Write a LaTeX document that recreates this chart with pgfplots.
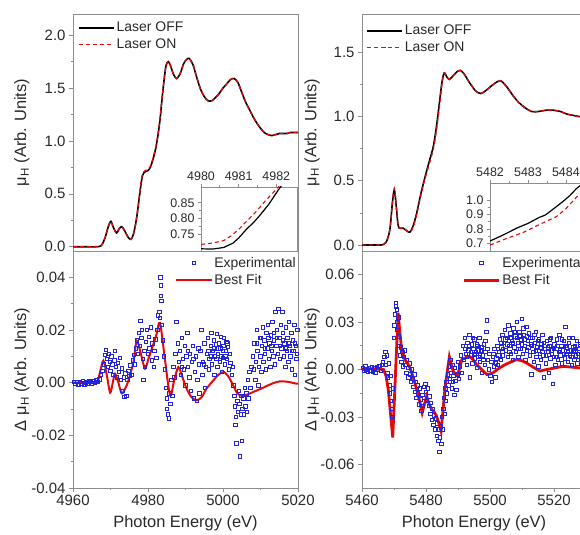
\documentclass[border=0pt]{standalone}
\usepackage{pgfplots}
\pgfplotsset{compat=1.18}
\usepackage{fontspec}
\setmainfont{Liberation Sans}

\definecolor{expblue}{RGB}{35,35,220}
\definecolor{fitred}{RGB}{228,10,10}
\definecolor{axgray}{RGB}{140,140,140}
\definecolor{txt}{RGB}{40,40,40}

\pgfplotsset{
  panel/.style={
    scale only axis,
    axis line style={axgray, line width=0.8pt},
    every tick/.style={axgray, line width=0.7pt},
    tick align=outside,
    major tick length=4bp,
    minor tick length=2.5bp,
    minor tick num=1,
    xtick pos=bottom, ytick pos=left,
    scaled ticks=false,
    tick label style={text=txt, font=\fontsize{15}{17}\selectfont},
    label style={text=txt, font=\fontsize{16.5}{19}\selectfont},
    /pgf/number format/assume math mode=true,
    /pgf/number format/1000 sep={},
    legend style={draw=none, fill=none, inner sep=0pt, font=\fontsize{14}{16}\selectfont, text=txt, row sep=1.5bp},
    legend cell align=left,
    legend image code/.code={\draw[mark repeat=2,mark phase=2,#1] plot coordinates {(0bp,0bp) (17.5bp,0bp) (35bp,0bp)};},
  },
  inset/.style={
    panel,
    axis background/.style={fill=white},
    xtick pos=top, xticklabel pos=top,
    major tick length=3bp, minor tick length=2bp,
    tick label style={text=txt, font=\fontsize{12.5}{14}\selectfont},
  },
  off/.style={black, line width=1.6pt},
  on/.style={fitred, line width=1.3pt, dash pattern=on 4bp off 3bp},
  expt/.style={only marks, mark=square, mark size=1.7bp, expblue, mark options={line width=0.7pt}},
}

\begin{document}
\begin{tikzpicture}[x=1bp,y=1bp]

% ---------- top left: XANES ----------
\begin{axis}[panel, at={(73bp,284bp)}, anchor=south west, width=225bp, height=237bp,
  xmin=4960, xmax=5020, ymin=-0.04, ymax=2.2, xtick=\empty,
  ytick={0,0.5,1,1.5,2},
  yticklabel style={/pgf/number format/.cd, fixed, fixed zerofill, precision=1},
  ylabel={μ\textsubscript{H} (Arb. Units)},
  ylabel style={at={(axis description cs:-0.227,0.5)}, anchor=center},
  legend style={at={(axis description cs:0.022,0.975)}, anchor=north west}]
\addplot[off, smooth] coordinates {(4960,0.0)(4963,0.0)(4966,0.0)(4967.5,0.01)(4968.5,0.08)(4969.5,0.20)(4970.1,0.24)(4970.8,0.18)(4971.6,0.13)(4972.3,0.17)(4973.0,0.19)(4973.8,0.15)(4974.7,0.09)(4975.5,0.07)(4976.2,0.13)(4977.0,0.28)(4977.8,0.50)(4978.5,0.67)(4979.3,0.71)(4980.0,0.72)(4980.6,0.75)(4981.2,0.81)(4982.0,0.92)(4982.6,1.04)(4983.2,1.20)(4983.7,1.38)(4984.2,1.55)(4984.8,1.71)(4985.4,1.75)(4986.0,1.71)(4986.8,1.63)(4987.6,1.59)(4988.5,1.63)(4989.5,1.73)(4990.3,1.77)(4991.0,1.78)(4992.0,1.72)(4993.0,1.60)(4994.0,1.49)(4995.0,1.42)(4996.0,1.38)(4997.0,1.38)(4998.0,1.41)(4999.0,1.45)(5000.0,1.50)(5001.0,1.54)(5002.0,1.58)(5003.0,1.59)(5004.0,1.55)(5005.0,1.46)(5006.0,1.37)(5007.0,1.30)(5008.0,1.23)(5009.0,1.17)(5010.0,1.12)(5011.0,1.08)(5012.0,1.06)(5013.0,1.05)(5014.0,1.06)(5015.0,1.07)(5016.0,1.07)(5017.0,1.07)(5018.0,1.08)(5019.0,1.08)(5020.0,1.08)};
\addlegendentry{Laser OFF}
\addplot[on, smooth] coordinates {(4960,0.0)(4963,0.0)(4966,0.0)(4967.5,0.01)(4968.5,0.08)(4969.5,0.20)(4970.1,0.24)(4970.8,0.18)(4971.6,0.13)(4972.3,0.17)(4973.0,0.19)(4973.8,0.15)(4974.7,0.09)(4975.5,0.07)(4976.2,0.13)(4977.0,0.28)(4977.8,0.51)(4978.5,0.68)(4979.3,0.72)(4980.0,0.73)(4980.6,0.76)(4981.2,0.82)(4982.0,0.93)(4982.6,1.05)(4983.2,1.21)(4983.7,1.39)(4984.2,1.55)(4984.8,1.71)(4985.4,1.75)(4986.0,1.71)(4986.8,1.63)(4987.6,1.59)(4988.5,1.63)(4989.5,1.73)(4990.3,1.77)(4991.0,1.78)(4992.0,1.72)(4993.0,1.60)(4994.0,1.49)(4995.0,1.42)(4996.0,1.38)(4997.0,1.38)(4998.0,1.41)(4999.0,1.45)(5000.0,1.50)(5001.0,1.54)(5002.0,1.58)(5003.0,1.59)(5004.0,1.55)(5005.0,1.46)(5006.0,1.37)(5007.0,1.30)(5008.0,1.23)(5009.0,1.17)(5010.0,1.12)(5011.0,1.08)(5012.0,1.06)(5013.0,1.05)(5014.0,1.06)(5015.0,1.07)(5016.0,1.07)(5017.0,1.07)(5018.0,1.08)(5019.0,1.08)(5020.0,1.08)};
\addlegendentry{Laser ON}
\end{axis}

% ---------- top left inset ----------
\begin{axis}[inset, at={(201bp,284bp)}, anchor=south west, width=96bp, height=64bp,
  xmin=4980, xmax=4982.55, ymin=0.697, ymax=0.90,
  xtick={4980,4981,4982}, ytick={0.75,0.80,0.85},
  yticklabel style={/pgf/number format/.cd, fixed, fixed zerofill, precision=2}]
\addplot[off, line width=1.2pt] coordinates {(4980.0,0.704)(4980.3,0.703)(4980.6,0.708)(4980.85,0.722)(4981.0,0.738)(4981.2,0.765)(4981.4,0.788)(4981.55,0.808)(4981.8,0.845)(4982.05,0.890)(4982.3,0.93)};
\addplot[on, line width=1.1pt] coordinates {(4980.0,0.718)(4980.3,0.722)(4980.6,0.730)(4980.8,0.745)(4981.0,0.765)(4981.2,0.790)(4981.45,0.820)(4981.7,0.855)(4981.98,0.890)(4982.2,0.92)};
\end{axis}

% ---------- bottom left: difference ----------
\begin{axis}[panel, at={(73bp,47bp)}, anchor=south west, width=225bp, height=237bp,
  xmin=4960, xmax=5020, ymin=-0.04, ymax=0.05,
  xtick={4960,4980,5000,5020}, ytick={-0.04,-0.02,0,0.02,0.04},
  yticklabel style={/pgf/number format/.cd, fixed, fixed zerofill, precision=2},
  xlabel={Photon Energy (eV)},
  xlabel style={at={(axis description cs:0.5,-0.148)}, anchor=center},
  ylabel={Δ μ\textsubscript{H} (Arb. Units)},
  ylabel style={at={(axis description cs:-0.227,0.5)}, anchor=center},
  legend style={at={(axis description cs:1,0.983)}, anchor=north east}]
\addplot[expt] coordinates {
(4960.2,0.0003)(4960.6,-0.0005)(4961.0,0.0002)(4961.4,-0.0008)(4961.8,0.0004)(4962.2,-0.0002)(4962.6,0.0006)(4963.0,-0.0006)(4963.4,0.0001)(4963.8,-0.0003)(4964.2,0.0008)(4964.6,0.0002)(4965.0,-0.0004)(4965.4,0.0005)(4965.8,-0.0001)(4966.2,0.0009)(4966.6,0.0003)(4967.0,0.0012)(4967.4,0.0030)
(4967.8,0.0045)(4968.2,0.0070)(4968.5,0.0105)(4968.8,0.0125)(4969.0,0.0090)(4969.3,0.0060)(4969.5,0.0110)(4969.8,0.0080)(4970.0,0.0045)(4970.2,0.0100)(4970.5,0.0070)(4970.7,0.0030)(4971.0,0.0085)(4971.2,0.0120)(4971.5,0.0060)(4971.7,0.0020)(4972.0,0.0075)(4972.2,0.0040)(4972.5,0.0095)(4972.7,0.0010)(4973.0,0.0055)(4973.2,-0.0030)(4973.5,0.0020)(4973.7,-0.0055)(4974.0,0.0035)(4974.2,-0.0050)(4974.5,0.0010)(4974.8,0.0045)(4975.0,0.0025)(4975.3,0.0065)(4975.6,0.0030)(4975.9,0.0085)
(4976.2,0.0105)(4976.5,0.0070)(4976.8,0.0130)(4977.0,0.0160)(4977.3,0.0110)(4977.5,0.0190)(4977.8,0.0140)(4978.0,0.0235)(4978.2,0.0170)(4978.4,0.0200)(4978.6,0.0090)(4978.8,0.0010)(4979.0,0.0120)(4979.2,0.0060)(4979.5,0.0155)(4979.7,0.0200)(4980.0,0.0110)(4980.2,0.0175)(4980.4,0.0130)(4980.7,0.0210)(4981.0,0.0085)(4981.2,0.0150)(4981.5,0.0060)(4981.7,0.0120)(4982.0,0.0165)(4982.2,0.0095)(4982.5,0.0200)(4982.7,0.0255)(4983.0,0.0270)(4983.2,0.0245)(4983.3,0.0400)(4983.4,0.0370)(4983.5,0.0330)(4983.6,0.0310)(4983.7,0.0220)(4983.9,0.0160)
(4984.3,0.0100)(4984.5,0.0050)(4984.8,-0.0020)(4985.0,-0.0060)(4985.1,-0.0100)(4985.3,-0.0120)(4985.5,-0.0135)(4985.7,-0.0040)(4986.0,-0.0080)(4986.2,0.0010)(4986.5,-0.0050)(4986.8,0.0060)(4987.0,0.0020)(4987.3,0.0110)(4987.6,0.0230)(4987.9,0.0150)(4988.2,0.0080)
(4988.5,0.0120)(4988.8,0.0030)(4989.0,0.0170)(4989.3,0.0090)(4989.5,0.0050)(4989.8,0.0140)(4990.0,-0.0010)(4990.2,0.0100)(4990.5,0.0190)(4990.7,0.0060)(4991.0,0.0020)(4991.2,0.0110)(4991.5,-0.0030)(4991.7,0.0080)(4992.0,0.0140)(4992.2,-0.0060)(4992.5,0.0040)(4992.7,0.0100)(4993.0,-0.0070)(4993.2,0.0010)(4993.5,0.0070)(4993.7,-0.0040)(4994.0,0.0120)(4994.2,0.0200)(4994.5,0.0030)(4994.7,0.0080)(4995.0,0.0150)(4995.2,-0.0020)(4995.5,0.0060)(4995.7,0.0110)(4996.0,0.0170)(4996.2,0.0050)(4996.4,0.0090)(4996.7,0.0140)(4996.9,0.0190)(4997.1,0.0070)(4997.3,0.0120)(4997.5,0.0160)(4997.7,0.0030)(4997.9,0.0100)(4998.1,0.0145)(4998.3,0.0185)(4998.5,0.0060)(4998.7,0.0110)(4998.9,0.0150)(4999.1,0.0080)(4999.3,0.0130)(4999.5,0.0175)(4999.7,0.0040)(4999.9,0.0095)(5000.1,0.0140)(5000.3,0.0170)(5000.5,0.0070)(5000.7,0.0120)(5000.9,0.0155)(5001.1,0.0090)(5001.3,0.0135)(5001.5,0.0050)(5001.8,0.0110)(5002.0,0.0075)(5002.3,0.0030)(5002.6,0.0060)
(4989.1,0.0060)(4990.6,0.0120)(4992.1,0.0090)(4993.4,0.0130)(4994.9,0.0070)(4996.1,0.0120)(4996.8,0.0100)(4997.6,0.0130)(4998.2,0.0090)(4998.8,0.0130)(4999.4,0.0100)(5000.0,0.0120)(5000.6,0.0100)(5001.2,0.0150)
(5002.8,-0.0010)(5003.0,-0.0050)(5003.2,-0.0090)(5003.3,-0.0160)(5003.4,-0.0130)(5003.6,-0.0230)(5003.8,-0.0070)(5004.0,-0.0110)(5004.2,-0.0030)(5004.4,-0.0080)(5004.5,-0.0280)(5004.7,-0.0120)(5004.9,-0.0050)(5005.0,-0.0220)(5005.2,-0.0100)(5005.4,-0.0060)(5005.6,-0.0120)(5005.8,-0.0020)(5006.0,-0.0090)(5006.2,-0.0040)(5006.4,-0.0110)(5006.6,0.0010)(5006.8,-0.0060)(5007.0,0.0040)(5007.3,-0.0020)(5007.6,0.0060)
(5008.0,0.0100)(5008.2,0.0050)(5008.4,0.0150)(5008.6,0.0010)(5008.8,0.0080)(5009.0,0.0200)(5009.2,0.0120)(5009.4,-0.0010)(5009.6,0.0060)(5009.8,0.0170)(5010.0,0.0100)(5010.2,0.0040)(5010.4,0.0140)(5010.6,0.0210)(5010.8,0.0080)(5011.0,0.0160)(5011.2,0.0110)(5011.4,0.0050)(5011.6,0.0190)(5011.8,0.0130)(5012.0,0.0220)(5012.2,0.0090)(5012.4,0.0150)(5012.6,0.0060)(5012.8,0.0180)(5013.0,0.0120)(5013.2,0.0230)(5013.4,0.0100)(5013.6,0.0160)(5013.8,0.0070)(5014.0,0.0270)(5014.2,0.0140)(5014.4,0.0200)(5014.6,0.0110)(5014.8,0.0280)(5015.0,0.0170)(5015.2,0.0090)(5015.4,0.0220)(5015.6,0.0130)(5015.8,0.0270)(5016.0,0.0190)(5016.2,0.0100)(5016.4,0.0150)(5016.6,0.0060)(5016.8,0.0210)(5017.0,0.0120)(5017.2,0.0170)(5017.4,0.0080)(5017.6,0.0230)(5017.8,0.0140)(5018.0,0.0100)(5018.2,0.0190)(5018.4,0.0050)(5018.6,0.0160)(5018.8,0.0120)(5019.0,0.0220)(5019.2,0.0030)(5019.4,0.0140)(5019.6,0.0090)(5019.8,0.0200)
(5009.1,0.0150)(5010.1,0.0170)(5011.1,0.0130)(5012.1,0.0170)(5012.9,0.0140)(5013.5,0.0190)(5014.3,0.0170)(5015.1,0.0140)(5015.9,0.0160)(5016.7,0.0130)(5017.5,0.0150)(5018.3,0.0120)(5019.1,0.0150)(5019.7,0.0110)};
\addlegendentry{Experimental}
\addplot[fitred, line width=2pt, smooth] coordinates {(4960,0.0)(4963,0.0)(4966.3,0.0)(4967.2,0.004)(4968.1,0.0084)(4969.0,0.003)(4969.9,-0.0038)(4970.6,0.0)(4971.2,0.0034)(4972.1,0.0)(4973.0,-0.0041)(4974.0,-0.002)(4974.8,0.0009)(4976.1,0.0078)(4977.0,0.0159)(4978.1,0.011)(4979.2,0.0053)(4980.1,0.009)(4981.0,0.0128)(4982.2,0.018)(4983.2,0.0226)(4984.5,0.009)(4985.9,-0.0048)(4987.0,0.001)(4988.1,0.0059)(4989.2,0.002)(4990.3,-0.0023)(4991.6,-0.0055)(4993.0,-0.0067)(4994.3,-0.0055)(4995.6,-0.0023)(4997.5,0.001)(4999.0,0.0033)(5000.3,0.004)(5001.5,0.0022)(5002.7,-0.001)(5003.8,-0.004)(5005.0,-0.005)(5006.5,-0.0045)(5008.1,-0.0035)(5009.8,-0.0025)(5011.6,-0.0013)(5013.4,-0.0002)(5015.2,0.0005)(5017.4,0.0003)(5019.6,-0.0004)(5020,-0.0004)};
\addlegendentry{Best Fit}
\end{axis}

% ---------- top right: XANES ----------
\begin{axis}[panel, at={(362bp,284bp)}, anchor=south west, width=224bp, height=237bp,
  xmin=5460, xmax=5530, ymin=-0.047, ymax=1.8, xtick=\empty,
  ytick={0,0.5,1,1.5},
  yticklabel style={/pgf/number format/.cd, fixed, fixed zerofill, precision=1},
  ylabel={μ\textsubscript{H} (Arb. Units)},
  ylabel style={at={(axis description cs:-0.223,0.5)}, anchor=center},
  legend style={at={(axis description cs:0.018,0.962)}, anchor=north west}]
\addplot[off, smooth] coordinates {(5460,0.0)(5464,0.0)(5466,0.0)(5467.5,0.02)(5468.7,0.12)(5469.5,0.33)(5470.1,0.43)(5470.7,0.30)(5471.3,0.15)(5472.0,0.13)(5472.9,0.13)(5474.0,0.11)(5475.0,0.10)(5476.0,0.15)(5477.1,0.25)(5478.4,0.40)(5479.7,0.53)(5481.0,0.65)(5482.3,0.77)(5483.3,0.93)(5484.2,1.11)(5485.0,1.27)(5485.7,1.34)(5486.5,1.31)(5487.3,1.29)(5488.5,1.32)(5489.7,1.35)(5490.8,1.36)(5492.0,1.33)(5493.2,1.28)(5494.3,1.24)(5495.5,1.20)(5497.1,1.18)(5498.5,1.20)(5500.0,1.23)(5501.5,1.26)(5503.3,1.28)(5505.0,1.24)(5507.3,1.16)(5509.0,1.11)(5510.9,1.07)(5513.0,1.04)(5515.1,1.04)(5517.5,1.05)(5519.8,1.05)(5522.0,1.04)(5524.0,1.02)(5526.0,1.01)(5528.0,1.00)(5530.0,1.00)};
\addlegendentry{Laser OFF}
\addplot[on, smooth] coordinates {(5460,0.0)(5464,0.0)(5466,0.0)(5467.5,0.02)(5468.7,0.12)(5469.5,0.33)(5470.1,0.44)(5470.7,0.31)(5471.3,0.15)(5472.0,0.13)(5472.9,0.13)(5474.0,0.11)(5475.0,0.10)(5476.0,0.14)(5477.1,0.24)(5478.4,0.39)(5479.7,0.52)(5481.0,0.63)(5482.3,0.75)(5483.3,0.90)(5484.2,1.08)(5485.0,1.26)(5485.7,1.34)(5486.5,1.31)(5487.3,1.29)(5488.5,1.32)(5489.7,1.35)(5490.8,1.36)(5492.0,1.33)(5493.2,1.28)(5494.3,1.24)(5495.5,1.20)(5497.1,1.18)(5498.5,1.20)(5500.0,1.23)(5501.5,1.26)(5503.3,1.28)(5505.0,1.24)(5507.3,1.16)(5509.0,1.11)(5510.9,1.07)(5513.0,1.04)(5515.1,1.04)(5517.5,1.05)(5519.8,1.05)(5522.0,1.04)(5524.0,1.02)(5526.0,1.01)(5528.0,1.00)(5530.0,1.00)};
\addlegendentry{Laser ON}
\end{axis}

% ---------- top right inset ----------
\begin{axis}[inset, at={(490bp,284bp)}, anchor=south west, width=96bp, height=67.7bp,
  xmin=5482, xmax=5484.53, ymin=0.647, ymax=1.116,
  xtick={5482,5483,5484}, ytick={0.7,0.8,0.9,1.0},
  yticklabel style={/pgf/number format/.cd, fixed, fixed zerofill, precision=1}]
\addplot[off, line width=1.2pt] coordinates {(5482.0,0.716)(5482.3,0.752)(5482.5,0.778)(5482.7,0.805)(5483.0,0.838)(5483.3,0.880)(5483.45,0.895)(5483.58,0.920)(5483.9,0.985)(5484.1,1.030)(5484.28,1.080)(5484.5,1.125)};
\addplot[on, line width=1.1pt] coordinates {(5482.0,0.688)(5482.4,0.730)(5482.88,0.776)(5483.3,0.830)(5483.75,0.885)(5484.0,0.940)(5484.28,1.020)(5484.5,1.070)};
\end{axis}

% ---------- bottom right: difference ----------
\begin{axis}[panel, at={(362bp,47bp)}, anchor=south west, width=224bp, height=237bp,
  xmin=5460, xmax=5530, ymin=-0.075, ymax=0.075,
  xtick={5460,5480,5500,5520}, ytick={-0.06,-0.03,0,0.03,0.06},
  yticklabel style={/pgf/number format/.cd, fixed, fixed zerofill, precision=2},
  xlabel={Photon Energy (eV)},
  xlabel style={at={(axis description cs:0.5,-0.148)}, anchor=center},
  ylabel={Δ μ\textsubscript{H} (Arb. Units)},
  ylabel style={at={(axis description cs:-0.223,0.5)}, anchor=center},
  legend style={at={(axis description cs:1,0.983)}, anchor=north east}]
\addplot[expt] coordinates {
(5460.2,0.0010)(5460.6,-0.0010)(5461.0,0.0020)(5461.4,0.0000)(5461.8,-0.0015)(5462.2,0.0012)(5462.6,-0.0005)(5463.0,0.0018)(5463.4,-0.0012)(5463.8,0.0008)(5464.2,-0.0020)(5464.6,0.0015)(5465.0,0.0000)(5465.4,0.0025)(5465.8,-0.0010)(5466.2,0.0030)(5466.6,0.0050)(5467.0,0.0080)(5467.3,0.0110)(5467.5,0.0030)(5467.7,0.0090)(5467.9,-0.0020)
(5468.1,-0.0050)(5468.3,0.0040)(5468.5,-0.0100)(5468.7,-0.0150)(5468.9,-0.0040)(5469.1,-0.0200)(5469.3,-0.0250)(5469.5,-0.0300)(5469.7,-0.0120)
(5469.9,0.0200)(5470.1,0.0280)(5470.3,0.0350)(5470.5,0.0400)(5470.6,0.0420)(5470.8,0.0380)(5471.0,0.0300)(5471.1,0.0250)(5471.3,0.0330)(5471.5,0.0210)(5471.7,0.0150)
(5471.9,0.0090)(5472.1,0.0140)(5472.3,0.0050)(5472.6,0.0110)(5472.8,0.0020)(5473.0,0.0080)(5473.3,0.0120)(5473.5,0.0030)(5473.8,-0.0020)(5474.0,0.0060)(5474.3,0.0010)(5474.5,-0.0050)(5474.8,0.0040)(5475.0,-0.0030)(5475.3,-0.0080)(5475.5,0.0000)(5475.8,-0.0060)(5476.0,-0.0110)(5476.3,-0.0030)(5476.5,-0.0140)(5476.8,-0.0080)(5477.0,-0.0180)(5477.3,-0.0100)(5477.5,-0.0150)(5477.8,-0.0220)(5478.0,-0.0120)(5478.3,-0.0190)(5478.5,-0.0260)(5478.8,-0.0160)(5479.0,-0.0230)(5479.3,-0.0110)(5479.5,-0.0180)(5479.8,-0.0090)(5480.0,-0.0140)(5480.3,-0.0200)(5480.5,-0.0120)
(5480.8,-0.0230)(5481.0,-0.0170)(5481.3,-0.0280)(5481.5,-0.0210)(5481.8,-0.0320)(5482.0,-0.0250)(5482.3,-0.0350)(5482.5,-0.0290)(5482.8,-0.0380)(5483.0,-0.0310)(5483.3,-0.0420)(5483.5,-0.0340)(5483.8,-0.0450)(5484.0,-0.0380)(5484.2,-0.0520)(5484.4,-0.0430)(5484.6,-0.0360)(5484.8,-0.0470)(5485.0,-0.0300)(5485.2,-0.0380)(5485.4,-0.0250)
(5485.6,-0.0180)(5485.8,-0.0280)(5486.0,-0.0120)(5486.2,-0.0200)(5486.4,-0.0080)(5486.6,-0.0150)(5486.8,-0.0030)(5487.0,-0.0100)(5487.2,0.0020)(5487.4,-0.0060)(5487.6,0.0060)(5487.8,-0.0020)(5488.0,-0.0120)(5488.2,0.0030)(5488.4,-0.0080)(5488.6,-0.0040)(5488.8,-0.0160)(5489.0,0.0010)(5489.2,-0.0070)(5489.5,-0.0130)(5489.8,-0.0030)(5490.0,0.0050)(5490.3,-0.0060)(5490.6,0.0020)(5490.9,0.0090)(5491.2,-0.0020)
(5491.6,0.0150)(5491.9,0.0060)(5492.1,0.0200)(5492.4,0.0100)(5492.7,0.0030)(5492.9,0.0170)(5493.2,0.0120)(5493.5,0.0220)(5493.7,-0.0050)(5494.0,0.0090)(5494.3,0.0160)(5494.5,0.0040)(5494.8,0.0130)(5495.1,0.0190)(5495.3,0.0070)(5495.6,0.0110)(5495.9,0.0010)(5496.1,0.0150)(5496.4,0.0080)(5496.7,0.0200)(5496.9,0.0050)(5497.2,0.0120)(5497.5,-0.0020)(5497.7,0.0090)(5498.0,0.0160)(5498.3,0.0030)(5498.5,0.0110)(5498.8,0.0240)(5499.0,0.0310)(5499.3,0.0060)(5499.6,0.0000)(5499.8,0.0100)(5500.1,-0.0040)(5500.4,0.0050)(5500.6,-0.0080)(5500.9,0.0080)(5501.2,0.0020)(5501.4,0.0130)(5501.7,-0.0050)(5502.0,0.0070)(5502.3,0.0150)(5502.5,0.0030)(5502.8,0.0110)(5503.1,0.0190)(5503.3,0.0060)(5503.6,0.0140)(5503.9,0.0220)(5504.1,0.0090)(5504.4,0.0170)(5504.7,0.0250)(5504.9,0.0120)(5505.2,0.0200)(5505.5,0.0080)(5505.7,0.0280)(5506.0,0.0150)(5506.3,0.0230)(5506.5,0.0100)(5506.8,0.0180)(5507.1,0.0060)(5507.3,0.0260)(5507.6,0.0140)(5507.9,0.0210)(5508.1,0.0110)(5508.4,0.0300)(5508.7,0.0170)(5508.9,0.0080)(5509.2,0.0240)(5509.5,0.0130)(5509.7,0.0190)(5510.0,0.0320)(5510.3,0.0100)(5510.5,0.0220)(5510.8,0.0150)(5511.1,0.0060)(5511.3,0.0270)(5511.6,0.0120)(5511.9,0.0180)(5512.1,0.0230)(5512.4,0.0090)(5512.7,0.0160)(5512.9,-0.0030)(5513.2,0.0200)(5513.5,0.0110)(5513.7,0.0050)(5514.0,0.0170)(5514.3,0.0240)(5514.5,0.0080)(5514.8,0.0140)(5515.1,0.0020)(5515.3,0.0190)(5515.6,0.0100)(5515.9,0.0060)(5516.1,0.0160)(5516.4,0.0220)(5516.7,0.0090)(5516.9,-0.0050)(5517.2,0.0130)(5517.5,0.0040)(5517.7,0.0180)(5518.0,0.0110)(5518.3,-0.0020)(5518.5,0.0150)(5518.8,0.0070)(5519.1,0.0200)(5519.3,0.0120)(5519.6,-0.0090)(5519.9,0.0080)(5520.1,0.0160)(5520.4,0.0030)(5520.7,0.0130)(5520.9,0.0190)(5521.2,0.0060)(5521.5,0.0110)(5521.7,0.0220)(5522.0,0.0090)(5522.3,0.0150)(5522.5,0.0040)(5522.8,0.0120)(5523.1,0.0180)(5523.3,0.0070)(5523.6,0.0270)(5523.9,0.0100)(5524.1,0.0140)(5524.4,0.0050)(5524.7,0.0170)(5524.9,0.0090)(5525.2,0.0120)(5525.5,0.0030)(5525.7,0.0200)(5526.0,0.0110)(5526.3,0.0060)(5526.5,0.0150)(5526.8,0.0090)(5527.1,0.0180)(5527.3,0.0040)(5527.6,0.0130)(5527.9,0.0080)(5528.2,0.0160)(5528.5,0.0100)(5528.8,0.0050)(5529.1,0.0140)(5529.4,0.0090)(5529.7,0.0120)
(5492.3,0.0130)(5492.8,0.0080)(5493.4,0.0150)(5494.1,0.0110)(5494.6,0.0200)(5495.2,0.0100)(5495.8,0.0160)(5496.3,0.0120)(5496.8,0.0090)(5497.4,0.0140)(5497.9,0.0060)(5498.6,0.0180)(5499.2,0.0130)(5501.0,0.0100)(5501.9,0.0040)(5502.6,0.0090)(5503.5,0.0170)(5504.0,0.0130)(5504.8,0.0190)(5505.4,0.0160)(5506.1,0.0110)(5506.6,0.0200)(5507.2,0.0170)(5507.8,0.0240)(5508.3,0.0200)(5508.8,0.0130)(5509.4,0.0210)(5509.9,0.0160)(5510.4,0.0260)(5510.9,0.0190)(5511.5,0.0210)(5512.0,0.0140)(5512.6,0.0200)(5513.1,0.0150)(5513.8,0.0220)(5514.4,0.0120)(5515.0,0.0180)(5515.7,0.0140)(5516.3,0.0110)(5516.8,0.0170)(5517.4,0.0090)(5518.1,0.0140)(5518.7,0.0190)(5519.4,0.0100)(5520.0,0.0130)(5520.6,0.0080)(5521.1,0.0150)(5521.8,0.0120)(5522.4,0.0190)(5523.0,0.0100)(5523.7,0.0150)(5524.3,0.0110)(5524.8,0.0200)(5525.4,0.0080)(5526.1,0.0140)(5526.7,0.0120)(5527.4,0.0100)(5528.0,0.0150)(5528.6,0.0070)(5529.3,0.0170)};
\addlegendentry{Experimental}
\addplot[fitred, line width=2.8pt] coordinates {(5460,0.0)(5463,0.0005)(5466.7,0.0)(5467.5,-0.004)(5468.2,-0.0126)(5469.0,-0.030)(5469.6,-0.043)(5470.1,-0.020)(5470.6,0.004)(5471.3,0.036)(5471.8,0.024)(5472.4,0.0126)(5473.4,0.0063)(5474.2,0.004)(5475.0,0.001)(5476.0,-0.005)(5477.1,-0.0126)(5478.0,-0.020)(5478.8,-0.0274)(5479.5,-0.022)(5480.2,-0.0169)(5481.0,-0.022)(5481.8,-0.0253)(5482.6,-0.027)(5483.3,-0.0295)(5484.0,-0.034)(5484.7,-0.039)(5485.3,-0.026)(5485.9,-0.0126)(5486.6,-0.002)(5487.3,0.008)(5487.9,0.003)(5488.5,-0.001)(5489.2,-0.003)(5489.8,-0.0042)(5490.5,0.001)(5491.2,0.0063)(5492.5,0.0075)(5493.8,0.008)(5494.8,0.006)(5495.8,0.0032)(5497.4,0.0)(5499.0,-0.0032)(5500.0,-0.0028)(5501.0,-0.002)(5502.6,0.0005)(5504.2,0.0025)(5506.2,0.0045)(5508.3,0.0063)(5510.0,0.0055)(5511.5,0.004)(5513.5,0.0015)(5515.6,-0.001)(5517.2,-0.0002)(5518.75,0.0004)(5520.8,0.0012)(5522.9,0.002)(5525.5,0.0015)(5528.1,0.001)(5530,0.001)};
\addlegendentry{Best Fit}
\end{axis}

\pgfresetboundingbox
\path[use as bounding box] (0,0) rectangle (580,535);
\end{tikzpicture}
\end{document}
